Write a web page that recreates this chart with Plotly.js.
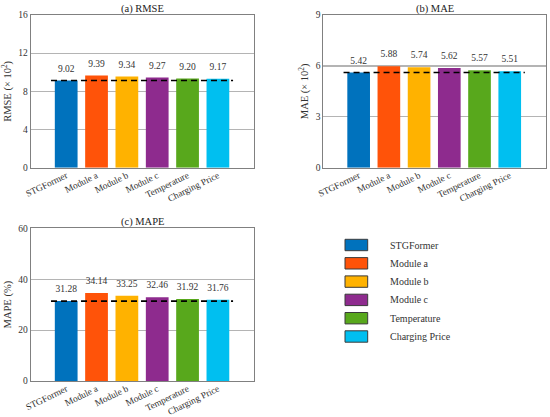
<!DOCTYPE html>
<html>
<head>
<meta charset="utf-8">
<script src="https://cdn.plot.ly/plotly-3.0.1.min.js"></script>
<style>html,body{margin:0;padding:0;background:#fff;}#chart{width:550px;height:417px;}</style>
</head>
<body>
<div id="chart"></div>
<script>
// ---- data ----
const categories = ["STGFormer", "Module a", "Module b", "Module c", "Temperature", "Charging Price"];
const colors = ["#0072BD", "#FF5309", "#FFB200", "#8E2B8E", "#58A81C", "#00BFF0"];
// bar heights as drawn in the picture
const rmseBars = [9.13, 9.66, 9.55, 9.45, 9.34, 9.31];
const maeBars  = [5.61, 5.98, 5.92, 5.88, 5.75, 5.69];
const mapeBars = [31.4, 34.6, 33.5, 32.9, 32.2, 31.9];
// value labels printed above the bars
const rmseLabels = ["9.02", "9.39", "9.34", "9.27", "9.20", "9.17"];
const maeLabels  = ["5.42", "5.88", "5.74", "5.62", "5.57", "5.51"];
const mapeLabels = ["31.28", "34.14", "33.25", "32.46", "31.92", "31.76"];
const rmseTicks = [0, 4, 8, 12, 16];
const maeTicks = [0, 3, 6, 9];
const mapeTicks = [0, 20, 40, 60];

const W = 550, H = 417;
const FONT = "'Liberation Serif', 'Times New Roman', 'DejaVu Serif', serif";
const TXT = "#333";
const xs = categories.map((_, i) => i);

const panels = [
  {bars: rmseBars, labels: rmseLabels, ticks: rmseTicks, title: "(a) RMSE", ytitle: "RMSE (× 10<sup>2</sup>)",
   px: [30.7, 254], py: [15, 167.7], xr: [-1.17, 6.19], ax: ""},
  {bars: maeBars, labels: maeLabels, ticks: maeTicks, title: "(b) MAE", ytitle: "MAE (× 10<sup>2</sup>)",
   px: [323.3, 546], py: [15, 167.7], xr: [-1.17, 6.2], ax: "2"},
  {bars: mapeBars, labels: mapeLabels, ticks: mapeTicks, title: "(c) MAPE", ytitle: "MAPE (%)",
   px: [30.7, 254], py: [228.3, 381], xr: [-1.17, 6.19], ax: "3"}
];

const traces = [];
const layout = {
  width: W, height: H, margin: {l: 0, r: 0, t: 0, b: 0},
  paper_bgcolor: "#fff", plot_bgcolor: "#fff",
  showlegend: false, font: {family: FONT, size: 9.5, color: TXT},
  annotations: [], shapes: []
};

panels.forEach(p => {
  const xa = "x" + p.ax, ya = "y" + p.ax;
  traces.push({
    type: "bar", x: xs, y: p.bars, xaxis: xa, yaxis: ya, width: 0.75,
    marker: {color: colors, line: {width: 0}}, hoverinfo: "none"
  });
  traces.push({
    type: "scatter", mode: "lines", xaxis: xa, yaxis: ya,
    x: [-0.5, categories.length - 0.5], y: [p.bars[0], p.bars[0]],
    line: {color: "#000", width: 1.6, dash: "6px,4px"}, hoverinfo: "none"
  });
  traces.push({
    type: "scatter", mode: "markers+text", xaxis: xa, yaxis: ya,
    x: xs, y: p.bars, text: p.labels, textposition: "top center", cliponaxis: false,
    marker: {size: 9, color: "rgba(0,0,0,0)"},
    textfont: {family: FONT, size: 9.5, color: TXT}, hoverinfo: "none"
  });
  const tmax = p.ticks[p.ticks.length - 1];
  layout["xaxis" + p.ax] = {
    domain: [p.px[0] / W, p.px[1] / W], range: p.xr, anchor: ya,
    tickmode: "array", tickvals: xs, ticktext: categories, tickangle: -26,
    tickfont: {family: FONT, size: 9.3, color: TXT}, ticks: "", ticklabelstandoff: -2,
    showgrid: false, zeroline: false, showline: true, mirror: true,
    linecolor: "#808080", linewidth: 1, fixedrange: true
  };
  layout["yaxis" + p.ax] = {
    domain: [1 - p.py[1] / H, 1 - p.py[0] / H], range: [0, tmax], anchor: xa,
    tickmode: "array", tickvals: p.ticks, ticks: "",
    tickfont: {family: FONT, size: 9.5, color: TXT},
    showgrid: true, gridcolor: "#b4b4b4", gridwidth: 1.2, zeroline: false,
    showline: true, mirror: true, linecolor: "#808080", linewidth: 1,
    title: {text: p.ytitle, font: {family: FONT, size: 10.5, color: TXT}, standoff: 4},
    fixedrange: true
  };
  layout.annotations.push({
    xref: "paper", yref: "paper", x: (p.px[0] + p.px[1]) / 2 / W, y: 1 - p.py[0] / H,
    xanchor: "center", yanchor: "bottom", yshift: -2, showarrow: false,
    text: p.title, font: {family: FONT, size: 10.5, color: "#222"}
  });
});

// ---- legend (manual, matching the swatch style) ----
const legX0 = 345, legX1 = 367.7, legTop = 239.3, legH = 11.4, legStep = 18.3, legTextX = 387.7;
categories.forEach((c, i) => {
  const y0 = legTop + i * legStep;
  layout.shapes.push({
    type: "rect", xref: "paper", yref: "paper",
    x0: legX0 / W, x1: legX1 / W, y0: 1 - y0 / H, y1: 1 - (y0 + legH) / H,
    fillcolor: colors[i], line: {color: "#3a3a3a", width: 1}
  });
  layout.annotations.push({
    xref: "paper", yref: "paper", x: legTextX / W, y: 1 - (y0 + legH / 2) / H,
    xanchor: "left", yanchor: "middle", showarrow: false,
    text: c, font: {family: FONT, size: 10, color: TXT}
  });
});

Plotly.newPlot("chart", traces, layout, {displayModeBar: false, staticPlot: true});
</script>
</body>
</html>
